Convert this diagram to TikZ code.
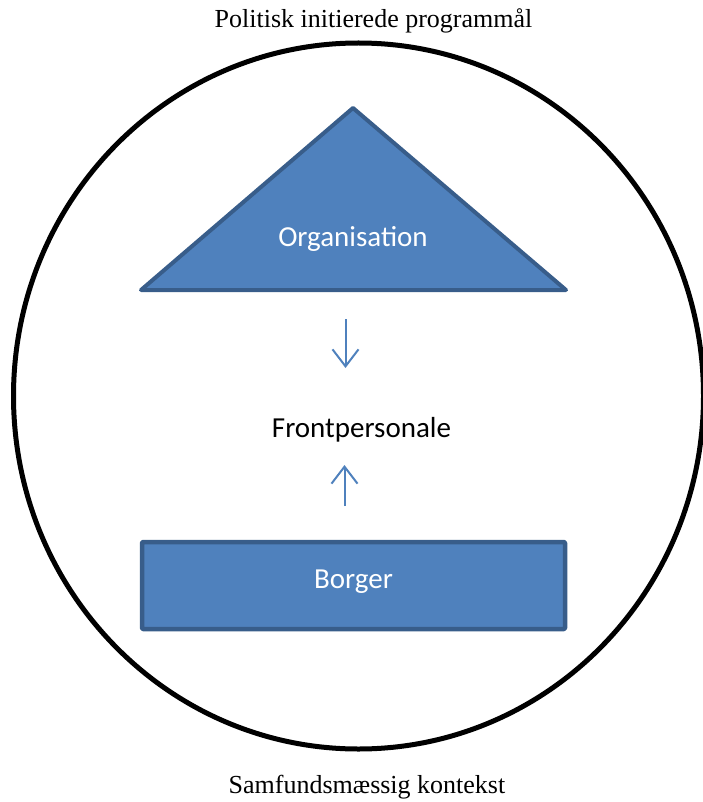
\documentclass[tikz,border=0pt]{standalone}
\usepackage{fontspec}
\setmainfont{Liberation Serif}
\newfontfamily\calib{Carlito}
\usetikzlibrary{arrows.meta}
\definecolor{accfill}{HTML}{4F81BD}
\definecolor{accline}{HTML}{385D8A}
\tikzset{
  shapebox/.style={fill=accfill, draw=accline, line width=4pt, line join=round},
  wtext/.style={text=white, font=\calib\fontsize{29}{34}\selectfont, inner sep=0pt, anchor=base},
  btext/.style={text=black, font=\calib\fontsize{29}{34}\selectfont, inner sep=0pt, anchor=base},
  serif/.style={text=black, font=\fontsize{26}{30}\selectfont, inner sep=0pt, anchor=base},
  arr/.style={draw=accfill, line width=2pt, -{Straight Barb[length=17pt,width=26pt]}}
}
\begin{document}
\begin{tikzpicture}[x=1pt,y=-1pt]
\useasboundingbox (0,0) rectangle (703,802);
% context ellipse
\draw[line width=5pt] (358.5,396) ellipse [x radius=345pt, y radius=353pt];
% organisation triangle
\filldraw[shapebox] (141,290) -- (353,108) -- (566,290) -- cycle;
\node[wtext] (org) at (353,247) {Organisation};
% borger box
\node[shapebox, line width=4.5pt, rounded corners=1pt, minimum width=423pt, minimum height=87pt, inner sep=0pt] (borgerbox) at (353.5,585.5) {};
\node[wtext] (borger) at (353.5,588) {Borger};
% front personnel
\node[btext] (front) at (361.5,437) {Frontpersonale};
% arrows
\coordinate (d1) at (345.5,319);
\coordinate (d2) at (345.5,368);
\coordinate (u1) at (344.5,506);
\coordinate (u2) at (344.5,465);
\draw[arr] (d1) -- (d2);
\draw[arr] (u1) -- (u2);
% captions
\node[serif] (top) at (373.5,28) {Politisk initierede programmål};
\node[serif] (bottom) at (367,793) {Samfundsmæssig kontekst};
\end{tikzpicture}
\end{document}
